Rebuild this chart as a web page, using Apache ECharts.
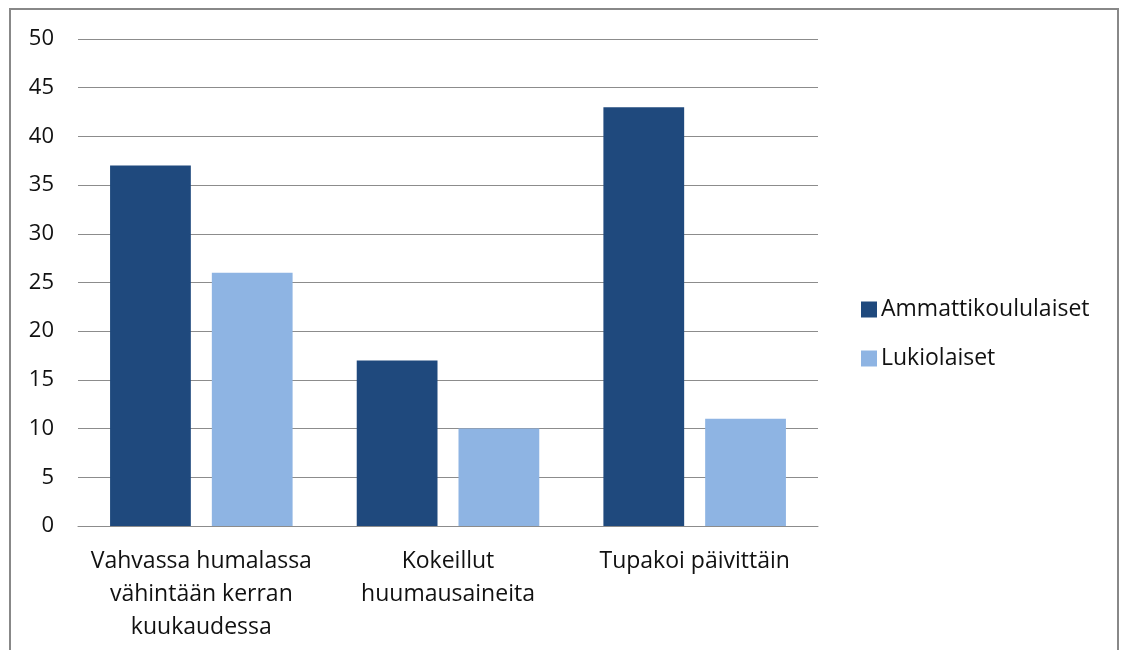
<!DOCTYPE html>
<html>
<head>
<meta charset="utf-8">
<script src="https://cdn.jsdelivr.net/npm/echarts@6/dist/echarts.min.js"></script>
<style>
  html, body { margin: 0; padding: 0; background: #fff; }
  #chart { width: 1122px; height: 650px; }
</style>
</head>
<body>
<div id="chart"></div>
<script>
// Categories (line breaks as laid out under the axis)
const categories = [
  'Vahvassa humalassa\nvähintään kerran\nkuukaudessa',
  'Kokeillut\nhuumausaineita',
  'Tupakoi päivittäin'
];
const seriesNames = ['Ammattikoululaiset', 'Lukiolaiset'];
const ammattikoululaiset = [37, 17, 43];
const lukiolaiset = [26, 10, 11];

const font = 'Open Sans, Liberation Sans, sans-serif';

const chart = echarts.init(document.getElementById('chart'), null, { renderer: 'canvas' });
chart.setOption({
  animation: false,
  backgroundColor: '#ffffff',
  textStyle: { fontFamily: font },
  graphic: [{
    type: 'rect',
    shape: { x: 10, y: 9, width: 1108, height: 660 },
    style: { fill: 'none', stroke: '#888888', lineWidth: 2 },
    silent: true
  }],
  grid: { left: 78, right: 304, top: 39, bottom: 124, containLabel: false },
  legend: {
    orient: 'vertical',
    left: 856,
    top: 293,
    itemWidth: 16,
    itemHeight: 16,
    itemGap: 26,
    icon: 'rect',
    textStyle: { fontSize: 23, color: '#111', fontFamily: font, padding: [0, 0, 0, -1] },
    data: seriesNames
  },
  xAxis: {
    type: 'category',
    data: categories,
    axisLine: { lineStyle: { color: '#8c8c8c', width: 1 } },
    axisTick: { show: false },
    axisLabel: {
      fontSize: 23,
      color: '#111',
      lineHeight: 33,
      margin: 19,
      interval: 0,
      fontFamily: font
    }
  },
  yAxis: {
    type: 'value',
    min: 0,
    max: 50,
    interval: 5,
    axisLine: { show: false },
    axisTick: { show: false },
    splitLine: { lineStyle: { color: '#8c8c8c', width: 1 } },
    axisLabel: { fontSize: 22, color: '#111', margin: 24, fontFamily: font }
  },
  series: [
    {
      name: seriesNames[0],
      type: 'bar',
      data: ammattikoululaiset,
      itemStyle: { color: '#1f497d' },
      barGap: '26%',
      barCategoryGap: '26%'
    },
    {
      name: seriesNames[1],
      type: 'bar',
      data: lukiolaiset,
      itemStyle: { color: '#8eb4e3' }
    }
  ]
});
</script>
</body>
</html>
